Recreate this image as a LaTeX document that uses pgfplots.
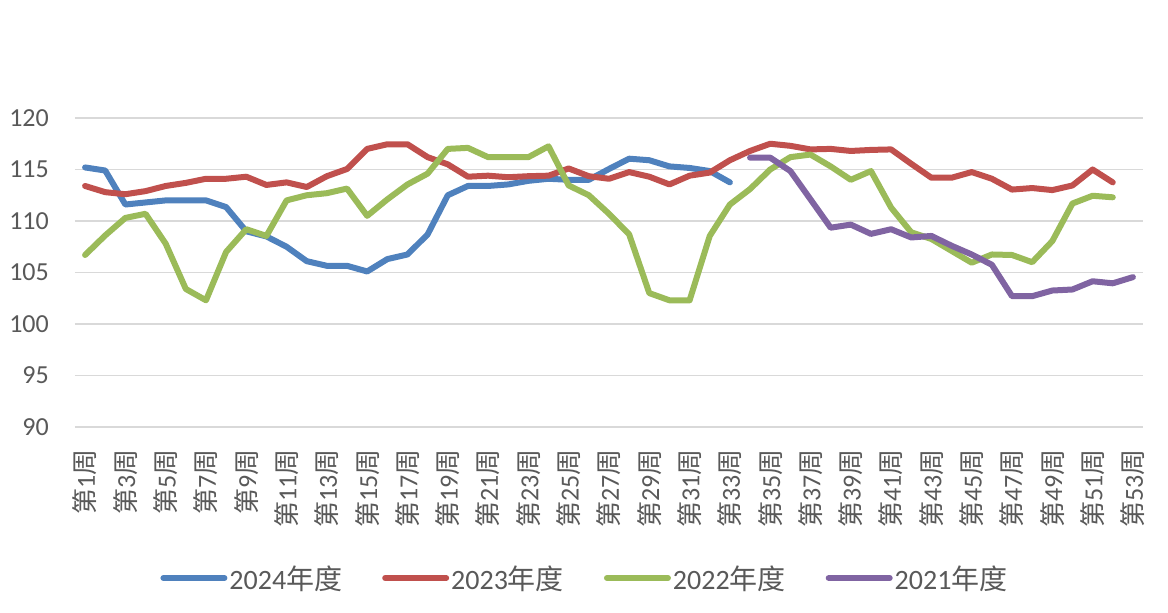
\documentclass[border=0pt]{standalone}
\usepackage{pgfplots}
\pgfplotsset{compat=1.18}
\usepackage{fontspec}
\setmainfont{Carlito}
\newfontfamily\cjk{Noto Sans CJK SC}
\definecolor{c24}{HTML}{4F81BD}
\definecolor{c23}{HTML}{C0504D}
\definecolor{c22}{HTML}{9BBB59}
\definecolor{c21}{HTML}{8064A2}
\definecolor{txt}{HTML}{595959}
\definecolor{gridc}{HTML}{D9D9D9}
\newcommand{\wk}[1]{{\cjk 第}#1{\cjk 周}}
\newcommand{\yr}[1]{#1{\cjk 年度}}

\pgfplotstableread{
w v
1 115.2
2 114.9
3 111.6
4 111.8
5 112.0
6 112.0
7 112.0
8 111.35
9 109.0
10 108.5
11 107.5
12 106.1
13 105.65
14 105.65
15 105.1
16 106.3
17 106.75
18 108.7
19 112.5
20 113.4
21 113.4
22 113.55
23 113.9
24 114.1
25 114.0
26 114.0
27 115.05
28 116.05
29 115.9
30 115.3
31 115.15
32 114.85
33 113.75
}\tblA

\pgfplotstableread{
w v
1 113.4
2 112.8
3 112.6
4 112.9
5 113.4
6 113.7
7 114.1
8 114.1
9 114.3
10 113.5
11 113.75
12 113.3
13 114.35
14 115.05
15 117.0
16 117.45
17 117.45
18 116.2
19 115.5
20 114.3
21 114.4
22 114.25
23 114.35
24 114.4
25 115.1
26 114.35
27 114.1
28 114.75
29 114.3
30 113.55
31 114.4
32 114.7
33 115.9
34 116.8
35 117.5
36 117.3
37 116.95
38 117.0
39 116.8
40 116.9
41 116.95
42 115.55
43 114.2
44 114.2
45 114.75
46 114.1
47 113.05
48 113.2
49 113.0
50 113.45
51 115.0
52 113.75
}\tblB

\pgfplotstableread{
w v
1 106.7
2 108.6
3 110.3
4 110.7
5 107.8
6 103.4
7 102.3
8 107.0
9 109.2
10 108.55
11 112.0
12 112.5
13 112.7
14 113.15
15 110.5
16 112.1
17 113.55
18 114.6
19 117.0
20 117.1
21 116.2
22 116.2
23 116.2
24 117.25
25 113.45
26 112.5
27 110.7
28 108.7
29 103.0
30 102.3
31 102.3
32 108.55
33 111.6
34 113.1
35 115.0
36 116.2
37 116.45
38 115.3
39 114.0
40 114.85
41 111.3
42 108.9
43 108.25
44 107.1
45 105.95
46 106.75
47 106.7
48 106.0
49 108.05
50 111.7
51 112.45
52 112.3
}\tblC

\pgfplotstableread{
w v
34 116.15
35 116.15
36 114.85
37 112.1
38 109.35
39 109.65
40 108.75
41 109.2
42 108.4
43 108.55
44 107.6
45 106.75
46 105.75
47 102.7
48 102.7
49 103.25
50 103.35
51 104.15
52 103.95
53 104.55
}\tblD

\begin{document}
\begin{tikzpicture}
\useasboundingbox (-75pt,-186pt) rectangle (1093pt,427pt);
\begin{axis}[
  at={(0pt,0pt)}, anchor=south west,
  scale only axis, width=1068pt, height=309pt,
  xmin=0.5, xmax=53.5, ymin=90, ymax=120,
  ytick={90,95,100,105,110,115,120},
  xtick={1,3,...,53},
  xticklabels={\wk{1},\wk{3},\wk{5},\wk{7},\wk{9},\wk{11},\wk{13},\wk{15},\wk{17},\wk{19},\wk{21},\wk{23},\wk{25},\wk{27},\wk{29},\wk{31},\wk{33},\wk{35},\wk{37},\wk{39},\wk{41},\wk{43},\wk{45},\wk{47},\wk{49},\wk{51},\wk{53}},
  axis line style={draw=none},
  major tick length=0pt,
  ymajorgrids, grid style={gridc, line width=1.4pt},
  ticklabel style={font=\fontsize{26}{30}\selectfont, text=txt},
  /pgf/number format/assume math mode=true,
  xticklabel style={rotate=90, anchor=east, inner sep=0pt},
  xticklabel shift=22pt,
  yticklabel style={anchor=east, inner sep=0pt},
  yticklabel shift=26pt,
  legend style={at={(0.4775,-0.4887)}, anchor=center, draw=none, fill=none,
    font=\fontsize{28}{32}\selectfont, text=txt,
    /tikz/every even column/.append style={column sep=38pt}},
  legend columns=4,
  legend image code/.code={\draw[#1] (0pt,0pt) -- (61pt,0pt);},
  every axis plot/.append style={line width=6pt, line cap=round, line join=round},
]
\addplot[c24, mark=none] table[x=w,y=v]{\tblA};
\addlegendentry{\yr{2024}}
\addplot[c23, mark=none] table[x=w,y=v]{\tblB};
\addlegendentry{\yr{2023}}
\addplot[c22, mark=none] table[x=w,y=v]{\tblC};
\addlegendentry{\yr{2022}}
\addplot[c21, mark=none] table[x=w,y=v]{\tblD};
\addlegendentry{\yr{2021}}
\end{axis}
\end{tikzpicture}
\end{document}
